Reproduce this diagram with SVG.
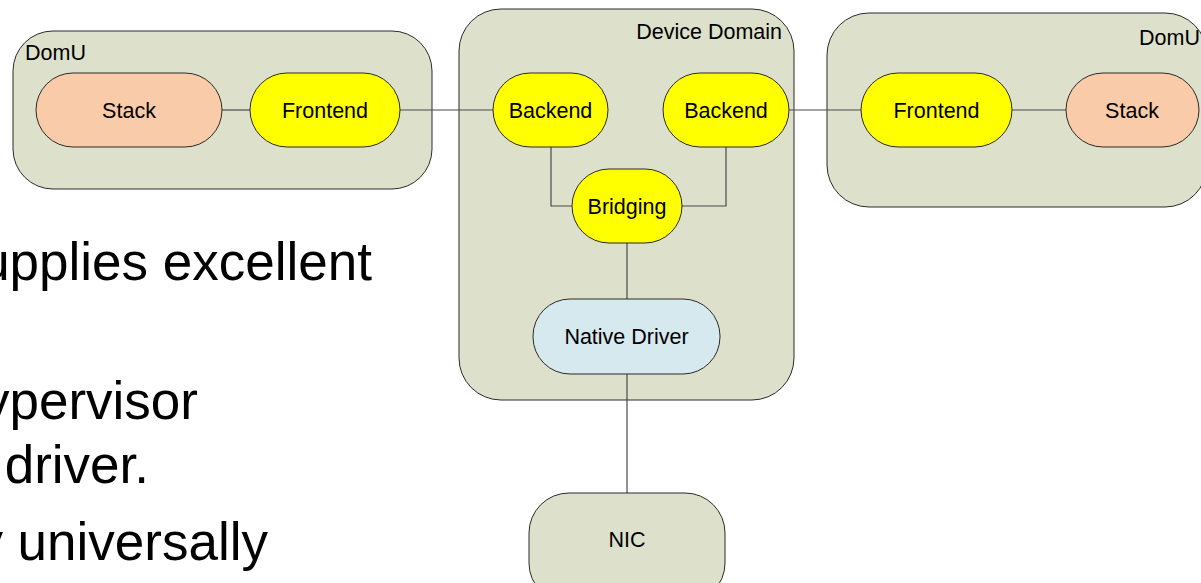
<svg xmlns="http://www.w3.org/2000/svg" width="1201" height="583" viewBox="0 0 1201 583">
<style>
.box{fill:#dde1cb;stroke:#2a2a2a;stroke-width:1}
.stack{fill:#f9cba8;stroke:#2a2a2a;stroke-width:1}
.yel{fill:#ffff00;stroke:#2a2a2a;stroke-width:1}
.drv{fill:#d5e9ef;stroke:#2a2a2a;stroke-width:1}
.lbl{font-family:"Liberation Sans",Arial,sans-serif;font-size:21.5px;fill:#000}
.c{text-anchor:middle}
.body{font-family:"Liberation Sans",Arial,sans-serif;font-size:53px;fill:#000}
.conn{fill:none;stroke:#4a4a4a;stroke-width:1.2}
</style>
<g id="bodytext">
<text class="body" x="372" y="280" text-anchor="end">upplies excellent</text>
<text class="body" x="198" y="419" text-anchor="end">ypervisor</text>
<text class="body" x="149" y="483" text-anchor="end">driver.</text>
<text class="body" x="268" y="560" text-anchor="end">y universally</text>
</g>
<g id="domu-left">
<rect class="box" x="13" y="31" width="419" height="158" rx="40" ry="40"/>
<text class="lbl" x="25" y="60">DomU</text>
</g>
<g id="device-domain">
<rect class="box" x="459" y="9" width="335" height="391" rx="42" ry="42"/>
<text class="lbl" x="782" y="39" text-anchor="end">Device Domain</text>
</g>
<g id="domu-right">
<rect class="box" x="827" y="13" width="380" height="194" rx="42" ry="42"/>
<text class="lbl" x="1139" y="45">DomU</text>
</g>
<g id="connectors">
<line class="conn" x1="222" y1="110" x2="250" y2="110"/>
<line class="conn" x1="400" y1="110" x2="493" y2="110"/>
<line class="conn" x1="789" y1="110" x2="861" y2="110"/>
<line class="conn" x1="1012" y1="110" x2="1066" y2="110"/>
<polyline class="conn" points="551,147 551,206 572,206"/>
<polyline class="conn" points="726,147 726,206 682,206"/>
<line class="conn" x1="627" y1="243" x2="627" y2="299"/>
<line class="conn" x1="627" y1="374" x2="627" y2="493"/>
</g>
<g id="stack-left">
<rect class="stack" x="36" y="73" width="186" height="74" rx="37" ry="37"/>
<text class="lbl c" x="129" y="117.5">Stack</text>
</g>
<g id="frontend-left">
<rect class="yel" x="250" y="73" width="150" height="74" rx="37" ry="37"/>
<text class="lbl c" x="325" y="117.5">Frontend</text>
</g>
<g id="backend-left">
<rect class="yel" x="493" y="73" width="115" height="74" rx="37" ry="37"/>
<text class="lbl c" x="550.5" y="117.5">Backend</text>
</g>
<g id="backend-right">
<rect class="yel" x="663" y="73" width="126" height="74" rx="37" ry="37"/>
<text class="lbl c" x="726" y="117.5">Backend</text>
</g>
<g id="bridging">
<rect class="yel" x="572" y="169" width="110" height="74" rx="37" ry="37"/>
<text class="lbl c" x="627" y="213.5">Bridging</text>
</g>
<g id="native-driver">
<rect class="drv" x="533" y="299" width="187" height="75" rx="37" ry="37"/>
<text class="lbl c" x="626.5" y="343.5">Native Driver</text>
</g>
<g id="nic">
<rect class="box" x="529" y="493" width="196" height="110" rx="40" ry="40"/>
<text class="lbl c" x="627" y="547">NIC</text>
</g>
<g id="frontend-right">
<rect class="yel" x="861" y="73" width="151" height="74" rx="37" ry="37"/>
<text class="lbl c" x="936.5" y="117.5">Frontend</text>
</g>
<g id="stack-right">
<rect class="stack" x="1066" y="73" width="133" height="74" rx="37" ry="37"/>
<text class="lbl c" x="1132" y="117.5">Stack</text>
</g>
</svg>
